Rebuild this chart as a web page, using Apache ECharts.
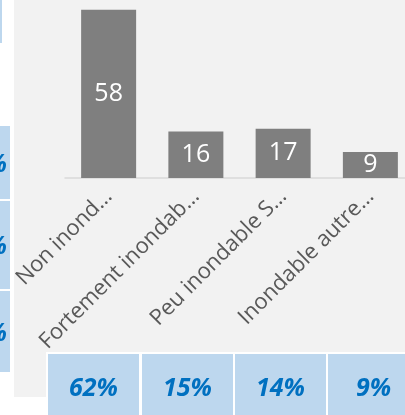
<!DOCTYPE html>
<html>
<head>
<meta charset="utf-8">
<script src="https://cdn.jsdelivr.net/npm/echarts@6/dist/echarts.min.js"></script>
<style>
html,body{margin:0;padding:0;background:#ffffff;}
#chart{width:405px;height:415px;}
</style>
</head>
<body>
<div id="chart"></div>
<script>
// Data
var categories = ['Non inond\u2026', 'Fortement inondab\u2026', 'Peu inondable S\u2026', 'Inondable autre\u2026'];
var values = [58, 16, 17, 9];
var percentLabels = ['62%', '15%', '14%', '9%'];
var leftPercentLabels = ['%', '%', '%'];

var chart = echarts.init(document.getElementById('chart'), null, {renderer: 'canvas'});

var FONT = '"Open Sans", "Liberation Sans", sans-serif';
var BLUE_CELL = '#bdd7ee';
var BLUE_TEXT = '#0070c0';

// Table cell geometry (layout only)
var tableCells = [[48, 91], [142, 91], [235, 91], [328, 80]];
var leftCells = [[126, 73], [201, 88], [291, 81]];

var graphics = [];
graphics.push({type: 'rect', z: -10, silent: true, shape: {x: 14, y: 0, width: 391, height: 397}, style: {fill: '#f2f2f2'}});
graphics.push({type: 'rect', z: -10, silent: true, shape: {x: 0, y: 0, width: 2, height: 43}, style: {fill: BLUE_CELL}});
leftCells.forEach(function (c, i) {
  graphics.push({type: 'rect', z: -10, silent: true, shape: {x: 0, y: c[0], width: 10, height: c[1]}, style: {fill: BLUE_CELL}});
  graphics.push({type: 'text', z: -9, silent: true, x: 7, y: c[0] + c[1] / 2 + 2,
    style: {text: leftPercentLabels[i], fill: BLUE_TEXT, font: 'italic bold 25px ' + FONT, align: 'right', verticalAlign: 'middle'}});
});
graphics.push({type: 'rect', z: 10, silent: true, shape: {x: 46, y: 352, width: 359, height: 63}, style: {fill: '#ffffff'}});
tableCells.forEach(function (c, i) {
  graphics.push({type: 'rect', z: 11, silent: true, shape: {x: c[0], y: 354, width: c[1], height: 61}, style: {fill: BLUE_CELL}});
  graphics.push({type: 'text', z: 12, silent: true, x: c[0] + 45.5, y: 389,
    style: {text: percentLabels[i], fill: BLUE_TEXT, font: 'italic bold 25px ' + FONT, align: 'center', verticalAlign: 'middle'}});
});

var option = {
  animation: false,
  backgroundColor: '#ffffff',
  graphic: graphics,
  grid: {left: 65, top: 4, width: 349, height: 174, containLabel: false, outerBoundsMode: 'none'},
  xAxis: {
    type: 'category',
    data: categories,
    axisLine: {show: true, lineStyle: {color: '#d9d9d9', width: 1.5}},
    axisTick: {show: false},
    axisLabel: {rotate: 45, interval: 0, margin: 15, color: '#595959', fontSize: 22, fontFamily: FONT}
  },
  yAxis: {type: 'value', min: 0, max: 60, show: false, splitLine: {show: false}},
  series: [{
    type: 'bar',
    data: values,
    barWidth: 55,
    itemStyle: {color: '#7f7f7f'},
    label: {show: true, position: 'inside', color: '#ffffff', fontSize: 25, fontFamily: FONT}
  }]
};
chart.setOption(option);
</script>
</body>
</html>
